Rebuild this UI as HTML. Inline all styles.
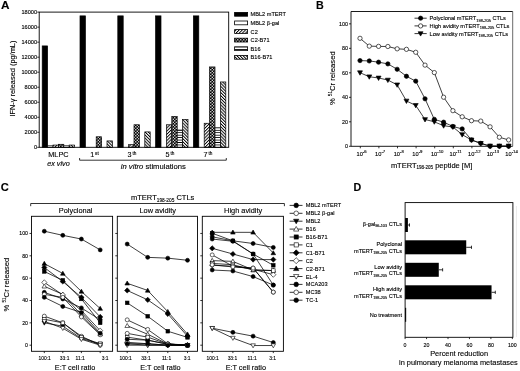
<!DOCTYPE html><html><head><meta charset="utf-8"><style>html,body{margin:0;padding:0;background:#fff;}svg{display:block;will-change:transform;filter:blur(0.3px);}text{stroke:#000;stroke-width:0.12px;}</style></head><body>
<svg width="520" height="371" viewBox="0 0 520 371" font-family='"Liberation Sans", sans-serif' fill="#000">
<defs>
<pattern id="p_c2" patternUnits="userSpaceOnUse" width="2.26" height="2.26" patternTransform="rotate(45)"><rect width="2.26" height="2.26" fill="#fff"/><rect width="0.95" height="2.26" fill="#000"/></pattern>
<pattern id="p_c2b" patternUnits="userSpaceOnUse" width="3" height="3"><rect width="3" height="3" fill="#000"/><rect x="0.15" y="0.15" width="1.25" height="1.25" fill="#fff"/><rect x="1.65" y="1.65" width="1.25" height="1.25" fill="#fff"/></pattern>
<pattern id="p_b16" patternUnits="userSpaceOnUse" width="3" height="2.45" shape-rendering="crispEdges"><rect width="3" height="2.45" fill="#fff"/><rect y="0" width="3" height="1.2" fill="#000"/></pattern>
<pattern id="p_b16b" patternUnits="userSpaceOnUse" width="2.2" height="2.2" patternTransform="rotate(-45)"><rect width="2.2" height="2.2" fill="#fff"/><rect width="0.95" height="2.2" fill="#000"/></pattern>
</defs>
<rect width="520" height="371" fill="#fff"/>
<text transform="translate(0.96,8.8) scale(1.1,1)" font-size="10.7" font-weight="bold">A</text>
<rect x="42.2" y="45.92" width="5.4" height="101.38" fill="#000" stroke="#000" stroke-width="0.7"/>
<rect x="47.6" y="145.8" width="5.4" height="1.5" fill="#fff" stroke="#000" stroke-width="0.7"/>
<rect x="53" y="145.05" width="5.4" height="2.25" fill="url(#p_c2)" stroke="#000" stroke-width="0.7"/>
<rect x="58.4" y="144.3" width="5.4" height="3" fill="url(#p_c2b)" stroke="#000" stroke-width="0.7"/>
<rect x="63.8" y="145.8" width="5.4" height="1.5" fill="url(#p_b16)" stroke="#000" stroke-width="0.7"/>
<rect x="69.2" y="145.05" width="5.4" height="2.25" fill="url(#p_b16b)" stroke="#000" stroke-width="0.7"/>
<rect x="80" y="15.88" width="5.4" height="131.42" fill="#000" stroke="#000" stroke-width="0.7"/>
<rect x="96.2" y="136.79" width="5.4" height="10.51" fill="url(#p_c2b)" stroke="#000" stroke-width="0.7"/>
<rect x="107" y="140.92" width="5.4" height="6.38" fill="url(#p_b16b)" stroke="#000" stroke-width="0.7"/>
<rect x="117.8" y="15.88" width="5.4" height="131.42" fill="#000" stroke="#000" stroke-width="0.7"/>
<rect x="128.6" y="144.67" width="5.4" height="2.63" fill="url(#p_c2)" stroke="#000" stroke-width="0.7"/>
<rect x="134" y="124.77" width="5.4" height="22.53" fill="url(#p_c2b)" stroke="#000" stroke-width="0.7"/>
<rect x="144.8" y="131.9" width="5.4" height="15.4" fill="url(#p_b16b)" stroke="#000" stroke-width="0.7"/>
<rect x="155.6" y="15.88" width="5.4" height="131.42" fill="#000" stroke="#000" stroke-width="0.7"/>
<rect x="166.4" y="124.77" width="5.4" height="22.53" fill="url(#p_c2)" stroke="#000" stroke-width="0.7"/>
<rect x="171.8" y="116.51" width="5.4" height="30.79" fill="url(#p_c2b)" stroke="#000" stroke-width="0.7"/>
<rect x="177.2" y="130.03" width="5.4" height="17.27" fill="url(#p_b16)" stroke="#000" stroke-width="0.7"/>
<rect x="182.6" y="119.51" width="5.4" height="27.79" fill="url(#p_b16b)" stroke="#000" stroke-width="0.7"/>
<rect x="193.4" y="15.88" width="5.4" height="131.42" fill="#000" stroke="#000" stroke-width="0.7"/>
<rect x="204.2" y="123.27" width="5.4" height="24.03" fill="url(#p_c2)" stroke="#000" stroke-width="0.7"/>
<rect x="209.6" y="66.94" width="5.4" height="80.36" fill="url(#p_c2b)" stroke="#000" stroke-width="0.7"/>
<rect x="215" y="127.77" width="5.4" height="19.53" fill="url(#p_b16)" stroke="#000" stroke-width="0.7"/>
<rect x="220.4" y="81.96" width="5.4" height="65.34" fill="url(#p_b16b)" stroke="#000" stroke-width="0.7"/>
<rect x="39.2" y="12.1" width="189.5" height="135.2" fill="none" stroke="#000" stroke-width="0.9"/>
<line x1="37.2" y1="147.3" x2="39.2" y2="147.3" stroke="#000" stroke-width="0.8"/>
<text x="37" y="149.3" font-size="5.6" text-anchor="end" >0</text>
<line x1="37.2" y1="132.28" x2="39.2" y2="132.28" stroke="#000" stroke-width="0.8"/>
<text x="37" y="134.28" font-size="5.6" text-anchor="end" >2000</text>
<line x1="37.2" y1="117.26" x2="39.2" y2="117.26" stroke="#000" stroke-width="0.8"/>
<text x="37" y="119.26" font-size="5.6" text-anchor="end" >4000</text>
<line x1="37.2" y1="102.24" x2="39.2" y2="102.24" stroke="#000" stroke-width="0.8"/>
<text x="37" y="104.24" font-size="5.6" text-anchor="end" >6000</text>
<line x1="37.2" y1="87.22" x2="39.2" y2="87.22" stroke="#000" stroke-width="0.8"/>
<text x="37" y="89.22" font-size="5.6" text-anchor="end" >8000</text>
<line x1="37.2" y1="72.2" x2="39.2" y2="72.2" stroke="#000" stroke-width="0.8"/>
<text x="37" y="74.2" font-size="5.6" text-anchor="end" >10000</text>
<line x1="37.2" y1="57.18" x2="39.2" y2="57.18" stroke="#000" stroke-width="0.8"/>
<text x="37" y="59.18" font-size="5.6" text-anchor="end" >12000</text>
<line x1="37.2" y1="42.16" x2="39.2" y2="42.16" stroke="#000" stroke-width="0.8"/>
<text x="37" y="44.16" font-size="5.6" text-anchor="end" >14000</text>
<line x1="37.2" y1="27.14" x2="39.2" y2="27.14" stroke="#000" stroke-width="0.8"/>
<text x="37" y="29.14" font-size="5.6" text-anchor="end" >16000</text>
<line x1="37.2" y1="12.12" x2="39.2" y2="12.12" stroke="#000" stroke-width="0.8"/>
<text x="37" y="14.12" font-size="5.6" text-anchor="end" >18000</text>
<text transform="translate(14.7,78.6) rotate(-90)" font-size="7.4" text-anchor="middle">IFN-&#947; released (pg/mL)</text>
<text x="58.4" y="157.1" font-size="7.3" text-anchor="middle" >MLPC</text>
<text x="58.5" y="165.6" font-size="7.25" text-anchor="middle" font-style="italic" >ex vivo</text>
<text x="94.5" y="157.4" font-size="7.2" text-anchor="middle">1<tspan font-size="4.7" dx="0.9" dy="-2.7">st</tspan></text>
<text x="132" y="157.4" font-size="7.2" text-anchor="middle">3<tspan font-size="4.7" dx="0.9" dy="-2.7">th</tspan></text>
<text x="170" y="157.4" font-size="7.2" text-anchor="middle">5<tspan font-size="4.7" dx="0.9" dy="-2.7">th</tspan></text>
<text x="208" y="157.4" font-size="7.2" text-anchor="middle">7<tspan font-size="4.7" dx="0.9" dy="-2.7">th</tspan></text>
<polyline points="79.6,158 79.6,160.2 226.3,160.2 226.3,158" fill="none" stroke="#000" stroke-width="0.8"/>
<text x="153.3" y="168.5" font-size="7.65" text-anchor="middle"><tspan font-style="italic">in vitro</tspan> stimulations</text>
<rect x="234.6" y="12.4" width="13" height="3.8" fill="#000" stroke="#000" stroke-width="0.8"/>
<text x="250.6" y="16.3" font-size="5.6" text-anchor="start" >MBL2 mTERT</text>
<rect x="234.6" y="21" width="13" height="3.8" fill="#fff" stroke="#000" stroke-width="0.8"/>
<text x="250.6" y="24.9" font-size="5.6" text-anchor="start" >MBL2 &#946;-gal</text>
<rect x="234.6" y="29.6" width="13" height="3.8" fill="url(#p_c2)" stroke="#000" stroke-width="0.8"/>
<text x="250.6" y="33.5" font-size="5.6" text-anchor="start" >C2</text>
<rect x="234.6" y="38.2" width="13" height="3.8" fill="url(#p_c2b)" stroke="#000" stroke-width="0.8"/>
<text x="250.6" y="42.1" font-size="5.6" text-anchor="start" >C2-B71</text>
<rect x="234.6" y="46.8" width="13" height="3.8" fill="url(#p_b16)" stroke="#000" stroke-width="0.8"/>
<text x="250.6" y="50.7" font-size="5.6" text-anchor="start" >B16</text>
<rect x="234.6" y="55.4" width="13" height="3.8" fill="url(#p_b16b)" stroke="#000" stroke-width="0.8"/>
<text x="250.6" y="59.3" font-size="5.6" text-anchor="start" >B16-B71</text>
<text x="316.1" y="8.8" font-size="10.7" text-anchor="start" font-weight="bold" >B</text>
<polyline points="512.7,11.5 351,11.5 351,146.3 512.7,146.3" fill="none" stroke="#000" stroke-width="0.9"/>
<line x1="512.7" y1="11.5" x2="512.7" y2="146.3" stroke="#444" stroke-width="0.8"/>
<line x1="349" y1="146.3" x2="351" y2="146.3" stroke="#000" stroke-width="0.8"/>
<text x="348" y="148.25" font-size="5.4" text-anchor="end" >0</text>
<line x1="349" y1="121.81" x2="351" y2="121.81" stroke="#000" stroke-width="0.8"/>
<text x="348" y="123.76" font-size="5.4" text-anchor="end" >20</text>
<line x1="349" y1="97.32" x2="351" y2="97.32" stroke="#000" stroke-width="0.8"/>
<text x="348" y="99.27" font-size="5.4" text-anchor="end" >40</text>
<line x1="349" y1="72.83" x2="351" y2="72.83" stroke="#000" stroke-width="0.8"/>
<text x="348" y="74.78" font-size="5.4" text-anchor="end" >60</text>
<line x1="349" y1="48.34" x2="351" y2="48.34" stroke="#000" stroke-width="0.8"/>
<text x="348" y="50.29" font-size="5.4" text-anchor="end" >80</text>
<line x1="349" y1="23.85" x2="351" y2="23.85" stroke="#000" stroke-width="0.8"/>
<text x="348" y="25.8" font-size="5.4" text-anchor="end" >100</text>
<line x1="360.3" y1="146.3" x2="360.3" y2="148.3" stroke="#000" stroke-width="0.8"/>
<text x="356.5" y="155.7" font-size="5.7">10<tspan font-size="4.3" dy="-2.4">-6</tspan></text>
<line x1="378.9" y1="146.3" x2="378.9" y2="148.3" stroke="#000" stroke-width="0.8"/>
<text x="375.1" y="155.7" font-size="5.7">10<tspan font-size="4.3" dy="-2.4">-7</tspan></text>
<line x1="397.5" y1="146.3" x2="397.5" y2="148.3" stroke="#000" stroke-width="0.8"/>
<text x="393.7" y="155.7" font-size="5.7">10<tspan font-size="4.3" dy="-2.4">-8</tspan></text>
<line x1="416.1" y1="146.3" x2="416.1" y2="148.3" stroke="#000" stroke-width="0.8"/>
<text x="412.3" y="155.7" font-size="5.7">10<tspan font-size="4.3" dy="-2.4">-9</tspan></text>
<line x1="434.7" y1="146.3" x2="434.7" y2="148.3" stroke="#000" stroke-width="0.8"/>
<text x="430.9" y="155.7" font-size="5.7">10<tspan font-size="4.3" dy="-2.4">-10</tspan></text>
<line x1="453.3" y1="146.3" x2="453.3" y2="148.3" stroke="#000" stroke-width="0.8"/>
<text x="449.5" y="155.7" font-size="5.7">10<tspan font-size="4.3" dy="-2.4">-11</tspan></text>
<line x1="471.9" y1="146.3" x2="471.9" y2="148.3" stroke="#000" stroke-width="0.8"/>
<text x="468.1" y="155.7" font-size="5.7">10<tspan font-size="4.3" dy="-2.4">-12</tspan></text>
<line x1="490.5" y1="146.3" x2="490.5" y2="148.3" stroke="#000" stroke-width="0.8"/>
<text x="486.7" y="155.7" font-size="5.7">10<tspan font-size="4.3" dy="-2.4">-13</tspan></text>
<line x1="509.1" y1="146.3" x2="509.1" y2="148.3" stroke="#000" stroke-width="0.8"/>
<text x="505.3" y="155.7" font-size="5.7">10<tspan font-size="4.3" dy="-2.4">-14</tspan></text>
<text x="431.6" y="167.5" font-size="7.5" text-anchor="middle">mTERT<tspan font-size="4.5" dy="1.9">198-205</tspan><tspan dy="-1.9"> peptide [M]</tspan></text>
<text transform="translate(334.8,78.2) rotate(-90)" font-size="7.7" text-anchor="middle">% <tspan font-size="4.6" dy="-2.4">51</tspan><tspan dy="2.4">Cr released</tspan></text>
<polyline points="360,72.71 369.29,76.75 378.58,77.97 387.87,80.05 397.16,84.83 406.45,100.99 415.74,105.4 425.03,119.48 434.32,121.81 443.61,125.73 452.9,126.95 462.19,134.67 471.48,139.93 480.77,143.36 490.06,145.93 499.35,145.93 508.64,145.93" fill="none" stroke="#000" stroke-width="0.75"/>
<polyline points="360,60.59 369.29,60.95 378.58,62.18 387.87,63.89 397.16,69.28 406.45,76.26 415.74,81.16 425.03,98.79 434.32,119.36 443.61,122.18 452.9,126.46 462.19,128.91 471.48,139.93 480.77,143.36 490.06,146.3 499.35,146.3 508.64,146.3" fill="none" stroke="#000" stroke-width="0.75"/>
<polyline points="360,38.3 369.29,46.14 378.58,46.38 387.87,46.5 397.16,48.83 406.45,49.32 415.74,52.26 425.03,65.12 434.32,72.59 443.61,97.2 452.9,110.67 462.19,116.79 471.48,120.71 480.77,121.08 490.06,126.83 499.35,137.24 508.64,139.93" fill="none" stroke="#000" stroke-width="0.75"/>
<polygon points="360,75.18 362.47,70.85 357.53,70.85" fill="#000" stroke="#000" stroke-width="0.65"/>
<polygon points="369.29,79.22 371.76,74.89 366.82,74.89" fill="#000" stroke="#000" stroke-width="0.65"/>
<polygon points="378.58,80.45 381.05,76.12 376.11,76.12" fill="#000" stroke="#000" stroke-width="0.65"/>
<polygon points="387.87,82.53 390.34,78.2 385.4,78.2" fill="#000" stroke="#000" stroke-width="0.65"/>
<polygon points="397.16,87.3 399.63,82.98 394.69,82.98" fill="#000" stroke="#000" stroke-width="0.65"/>
<polygon points="406.45,103.47 408.92,99.14 403.98,99.14" fill="#000" stroke="#000" stroke-width="0.65"/>
<polygon points="415.74,107.87 418.21,103.55 413.27,103.55" fill="#000" stroke="#000" stroke-width="0.65"/>
<polygon points="425.03,121.96 427.5,117.63 422.56,117.63" fill="#000" stroke="#000" stroke-width="0.65"/>
<polygon points="434.32,124.28 436.79,119.96 431.85,119.96" fill="#000" stroke="#000" stroke-width="0.65"/>
<polygon points="443.61,128.2 446.08,123.87 441.14,123.87" fill="#000" stroke="#000" stroke-width="0.65"/>
<polygon points="452.9,129.43 455.37,125.1 450.43,125.1" fill="#000" stroke="#000" stroke-width="0.65"/>
<polygon points="462.19,137.14 464.66,132.81 459.72,132.81" fill="#000" stroke="#000" stroke-width="0.65"/>
<polygon points="471.48,142.41 473.95,138.08 469.01,138.08" fill="#000" stroke="#000" stroke-width="0.65"/>
<polygon points="480.77,145.83 483.24,141.51 478.3,141.51" fill="#000" stroke="#000" stroke-width="0.65"/>
<polygon points="490.06,148.41 492.53,144.08 487.59,144.08" fill="#000" stroke="#000" stroke-width="0.65"/>
<polygon points="499.35,148.41 501.82,144.08 496.88,144.08" fill="#000" stroke="#000" stroke-width="0.65"/>
<polygon points="508.64,148.41 511.11,144.08 506.17,144.08" fill="#000" stroke="#000" stroke-width="0.65"/>
<circle cx="360" cy="60.59" r="2.15" fill="#000" stroke="#000" stroke-width="0.65"/>
<circle cx="369.29" cy="60.95" r="2.15" fill="#000" stroke="#000" stroke-width="0.65"/>
<circle cx="378.58" cy="62.18" r="2.15" fill="#000" stroke="#000" stroke-width="0.65"/>
<circle cx="387.87" cy="63.89" r="2.15" fill="#000" stroke="#000" stroke-width="0.65"/>
<circle cx="397.16" cy="69.28" r="2.15" fill="#000" stroke="#000" stroke-width="0.65"/>
<circle cx="406.45" cy="76.26" r="2.15" fill="#000" stroke="#000" stroke-width="0.65"/>
<circle cx="415.74" cy="81.16" r="2.15" fill="#000" stroke="#000" stroke-width="0.65"/>
<circle cx="425.03" cy="98.79" r="2.15" fill="#000" stroke="#000" stroke-width="0.65"/>
<circle cx="434.32" cy="119.36" r="2.15" fill="#000" stroke="#000" stroke-width="0.65"/>
<circle cx="443.61" cy="122.18" r="2.15" fill="#000" stroke="#000" stroke-width="0.65"/>
<circle cx="452.9" cy="126.46" r="2.15" fill="#000" stroke="#000" stroke-width="0.65"/>
<circle cx="462.19" cy="128.91" r="2.15" fill="#000" stroke="#000" stroke-width="0.65"/>
<circle cx="471.48" cy="139.93" r="2.15" fill="#000" stroke="#000" stroke-width="0.65"/>
<circle cx="480.77" cy="143.36" r="2.15" fill="#000" stroke="#000" stroke-width="0.65"/>
<circle cx="490.06" cy="146.3" r="2.15" fill="#000" stroke="#000" stroke-width="0.65"/>
<circle cx="499.35" cy="146.3" r="2.15" fill="#000" stroke="#000" stroke-width="0.65"/>
<circle cx="508.64" cy="146.3" r="2.15" fill="#000" stroke="#000" stroke-width="0.65"/>
<circle cx="360" cy="38.3" r="2.15" fill="#fff" stroke="#000" stroke-width="0.65"/>
<circle cx="369.29" cy="46.14" r="2.15" fill="#fff" stroke="#000" stroke-width="0.65"/>
<circle cx="378.58" cy="46.38" r="2.15" fill="#fff" stroke="#000" stroke-width="0.65"/>
<circle cx="387.87" cy="46.5" r="2.15" fill="#fff" stroke="#000" stroke-width="0.65"/>
<circle cx="397.16" cy="48.83" r="2.15" fill="#fff" stroke="#000" stroke-width="0.65"/>
<circle cx="406.45" cy="49.32" r="2.15" fill="#fff" stroke="#000" stroke-width="0.65"/>
<circle cx="415.74" cy="52.26" r="2.15" fill="#fff" stroke="#000" stroke-width="0.65"/>
<circle cx="425.03" cy="65.12" r="2.15" fill="#fff" stroke="#000" stroke-width="0.65"/>
<circle cx="434.32" cy="72.59" r="2.15" fill="#fff" stroke="#000" stroke-width="0.65"/>
<circle cx="443.61" cy="97.2" r="2.15" fill="#fff" stroke="#000" stroke-width="0.65"/>
<circle cx="452.9" cy="110.67" r="2.15" fill="#fff" stroke="#000" stroke-width="0.65"/>
<circle cx="462.19" cy="116.79" r="2.15" fill="#fff" stroke="#000" stroke-width="0.65"/>
<circle cx="471.48" cy="120.71" r="2.15" fill="#fff" stroke="#000" stroke-width="0.65"/>
<circle cx="480.77" cy="121.08" r="2.15" fill="#fff" stroke="#000" stroke-width="0.65"/>
<circle cx="490.06" cy="126.83" r="2.15" fill="#fff" stroke="#000" stroke-width="0.65"/>
<circle cx="499.35" cy="137.24" r="2.15" fill="#fff" stroke="#000" stroke-width="0.65"/>
<circle cx="508.64" cy="139.93" r="2.15" fill="#fff" stroke="#000" stroke-width="0.65"/>
<line x1="414.5" y1="18.2" x2="426.7" y2="18.2" stroke="#000" stroke-width="0.8"/>
<circle cx="420.6" cy="18.2" r="2.15" fill="#000" stroke="#000" stroke-width="0.65"/>
<text x="429.6" y="20.2" font-size="5.65">Polyclonal mTERT<tspan font-size="4" dy="1.3">198-205</tspan><tspan dy="-1.3"> CTLs</tspan></text>
<line x1="414.5" y1="25.9" x2="426.7" y2="25.9" stroke="#000" stroke-width="0.8"/>
<circle cx="420.6" cy="25.9" r="2.15" fill="#fff" stroke="#000" stroke-width="0.65"/>
<text x="429.6" y="27.9" font-size="5.65">High avidity mTERT<tspan font-size="4" dy="1.3">198-205</tspan><tspan dy="-1.3"> CTLs</tspan></text>
<line x1="414.5" y1="33.6" x2="426.7" y2="33.6" stroke="#000" stroke-width="0.8"/>
<polygon points="420.6,36.07 423.07,31.75 418.13,31.75" fill="#000" stroke="#000" stroke-width="0.65"/>
<text x="429.6" y="35.6" font-size="5.65">Low avidity mTERT<tspan font-size="4" dy="1.3">198-205</tspan><tspan dy="-1.3"> CTLs</tspan></text>
<text x="0.8" y="190.6" font-size="11.2" text-anchor="start" font-weight="bold" >C</text>
<polyline points="30.7,206.2 30.7,203.5 284.4,203.5 284.4,206.2" fill="none" stroke="#000" stroke-width="0.8"/>
<text x="162.7" y="200.4" font-size="7.5" text-anchor="middle">mTERT<tspan font-size="4.8" dy="1.4">198-205</tspan><tspan dy="-1.4"> CTLs</tspan></text>
<rect x="31.5" y="216.3" width="81.1" height="135" fill="none" stroke="#000" stroke-width="0.9"/>
<text x="75.65" y="213" font-size="7.4" text-anchor="middle" >Polyclonal</text>
<line x1="29.5" y1="345.2" x2="31.5" y2="345.2" stroke="#000" stroke-width="0.8"/>
<text x="28" y="347.05" font-size="5.2" text-anchor="end" >0</text>
<line x1="29.5" y1="322.85" x2="31.5" y2="322.85" stroke="#000" stroke-width="0.8"/>
<text x="28" y="324.7" font-size="5.2" text-anchor="end" >20</text>
<line x1="29.5" y1="300.5" x2="31.5" y2="300.5" stroke="#000" stroke-width="0.8"/>
<text x="28" y="302.35" font-size="5.2" text-anchor="end" >40</text>
<line x1="29.5" y1="278.15" x2="31.5" y2="278.15" stroke="#000" stroke-width="0.8"/>
<text x="28" y="280" font-size="5.2" text-anchor="end" >60</text>
<line x1="29.5" y1="255.8" x2="31.5" y2="255.8" stroke="#000" stroke-width="0.8"/>
<text x="28" y="257.65" font-size="5.2" text-anchor="end" >80</text>
<line x1="29.5" y1="233.45" x2="31.5" y2="233.45" stroke="#000" stroke-width="0.8"/>
<text x="28" y="235.3" font-size="5.2" text-anchor="end" >100</text>
<line x1="44.3" y1="351.3" x2="44.3" y2="353.1" stroke="#000" stroke-width="0.8"/>
<line x1="62.8" y1="351.3" x2="62.8" y2="353.1" stroke="#000" stroke-width="0.8"/>
<line x1="81.4" y1="351.3" x2="81.4" y2="353.1" stroke="#000" stroke-width="0.8"/>
<line x1="100.2" y1="351.3" x2="100.2" y2="353.1" stroke="#000" stroke-width="0.8"/>
<text x="44.6" y="359.8" font-size="4.9" text-anchor="middle" >100:1</text>
<text x="64.6" y="359.8" font-size="4.9" text-anchor="middle" >33:1</text>
<text x="80.2" y="359.8" font-size="4.9" text-anchor="middle" >11:1</text>
<text x="105.2" y="359.8" font-size="4.9" text-anchor="middle" >3:1</text>
<text x="75.05" y="369.8" font-size="7.3" text-anchor="middle" >E:T cell ratio</text>
<polyline points="44.3,231.21 62.8,235.35 81.4,239.04 100.2,249.88" fill="none" stroke="#000" stroke-width="0.75"/>
<polyline points="44.3,316.14 62.8,322.85 81.4,336.26 100.2,345.2" fill="none" stroke="#000" stroke-width="0.75"/>
<polyline points="44.3,322.85 62.8,326.2 81.4,338.5 100.2,344.08" fill="none" stroke="#000" stroke-width="0.75"/>
<polyline points="44.3,286.31 62.8,294.35 81.4,315.03 100.2,334.02" fill="none" stroke="#000" stroke-width="0.75"/>
<polyline points="44.3,271.44 62.8,280.38 81.4,298.94 100.2,322.85" fill="none" stroke="#000" stroke-width="0.75"/>
<polyline points="44.3,319.27 62.8,322.85 81.4,337.38 100.2,343.75" fill="none" stroke="#000" stroke-width="0.75"/>
<polyline points="44.3,267.53 62.8,281.5 81.4,297.37 100.2,316.93" fill="none" stroke="#000" stroke-width="0.75"/>
<polyline points="44.3,282.4 62.8,294.91 81.4,310.56 100.2,330.67" fill="none" stroke="#000" stroke-width="0.75"/>
<polyline points="44.3,263.62 62.8,273.46 81.4,291.45 100.2,308.55" fill="none" stroke="#000" stroke-width="0.75"/>
<polyline points="44.3,321.29 62.8,328.21 81.4,339.28 100.2,345.2" fill="none" stroke="#000" stroke-width="0.75"/>
<polyline points="44.3,292.34 62.8,298.94 81.4,307.88 100.2,319.83" fill="none" stroke="#000" stroke-width="0.75"/>
<polyline points="44.3,294.35 62.8,297.37 81.4,316.93 100.2,334.81" fill="none" stroke="#000" stroke-width="0.75"/>
<polyline points="44.3,297.37 62.8,306.42 81.4,312.46 100.2,333.24" fill="none" stroke="#000" stroke-width="0.75"/>
<circle cx="44.3" cy="231.21" r="2" fill="#000" stroke="#000" stroke-width="0.6"/>
<circle cx="62.8" cy="235.35" r="2" fill="#000" stroke="#000" stroke-width="0.6"/>
<circle cx="81.4" cy="239.04" r="2" fill="#000" stroke="#000" stroke-width="0.6"/>
<circle cx="100.2" cy="249.88" r="2" fill="#000" stroke="#000" stroke-width="0.6"/>
<circle cx="44.3" cy="316.14" r="2" fill="#fff" stroke="#000" stroke-width="0.6"/>
<circle cx="62.8" cy="322.85" r="2" fill="#fff" stroke="#000" stroke-width="0.6"/>
<circle cx="81.4" cy="336.26" r="2" fill="#fff" stroke="#000" stroke-width="0.6"/>
<circle cx="100.2" cy="345.2" r="2" fill="#fff" stroke="#000" stroke-width="0.6"/>
<polygon points="44.3,325.15 46.6,321.12 42,321.12" fill="#000" stroke="#000" stroke-width="0.6"/>
<polygon points="62.8,328.5 65.1,324.48 60.5,324.48" fill="#000" stroke="#000" stroke-width="0.6"/>
<polygon points="81.4,340.8 83.7,336.77 79.1,336.77" fill="#000" stroke="#000" stroke-width="0.6"/>
<polygon points="100.2,346.38 102.5,342.36 97.9,342.36" fill="#000" stroke="#000" stroke-width="0.6"/>
<polygon points="44.3,284.01 46.6,288.03 42,288.03" fill="#fff" stroke="#000" stroke-width="0.6"/>
<polygon points="62.8,292.05 65.1,296.08 60.5,296.08" fill="#fff" stroke="#000" stroke-width="0.6"/>
<polygon points="81.4,312.73 83.7,316.75 79.1,316.75" fill="#fff" stroke="#000" stroke-width="0.6"/>
<polygon points="100.2,331.72 102.5,335.75 97.9,335.75" fill="#fff" stroke="#000" stroke-width="0.6"/>
<rect x="42.5" y="269.64" width="3.6" height="3.6" fill="#000" stroke="#000" stroke-width="0.6"/>
<rect x="61" y="278.58" width="3.6" height="3.6" fill="#000" stroke="#000" stroke-width="0.6"/>
<rect x="79.6" y="297.14" width="3.6" height="3.6" fill="#000" stroke="#000" stroke-width="0.6"/>
<rect x="98.4" y="321.05" width="3.6" height="3.6" fill="#000" stroke="#000" stroke-width="0.6"/>
<rect x="42.5" y="317.47" width="3.6" height="3.6" fill="#fff" stroke="#000" stroke-width="0.6"/>
<rect x="61" y="321.05" width="3.6" height="3.6" fill="#fff" stroke="#000" stroke-width="0.6"/>
<rect x="79.6" y="335.58" width="3.6" height="3.6" fill="#fff" stroke="#000" stroke-width="0.6"/>
<rect x="98.4" y="341.95" width="3.6" height="3.6" fill="#fff" stroke="#000" stroke-width="0.6"/>
<polygon points="44.3,264.93 46.9,267.53 44.3,270.13 41.7,267.53" fill="#000" stroke="#000" stroke-width="0.6"/>
<polygon points="62.8,278.9 65.4,281.5 62.8,284.1 60.2,281.5" fill="#000" stroke="#000" stroke-width="0.6"/>
<polygon points="81.4,294.77 84,297.37 81.4,299.97 78.8,297.37" fill="#000" stroke="#000" stroke-width="0.6"/>
<polygon points="100.2,314.33 102.8,316.93 100.2,319.53 97.6,316.93" fill="#000" stroke="#000" stroke-width="0.6"/>
<polygon points="44.3,279.8 46.9,282.4 44.3,285 41.7,282.4" fill="#fff" stroke="#000" stroke-width="0.6"/>
<polygon points="62.8,292.31 65.4,294.91 62.8,297.51 60.2,294.91" fill="#fff" stroke="#000" stroke-width="0.6"/>
<polygon points="81.4,307.96 84,310.56 81.4,313.16 78.8,310.56" fill="#fff" stroke="#000" stroke-width="0.6"/>
<polygon points="100.2,328.07 102.8,330.67 100.2,333.27 97.6,330.67" fill="#fff" stroke="#000" stroke-width="0.6"/>
<polygon points="44.3,261.32 46.6,265.35 42,265.35" fill="#000" stroke="#000" stroke-width="0.6"/>
<polygon points="62.8,271.16 65.1,275.18 60.5,275.18" fill="#000" stroke="#000" stroke-width="0.6"/>
<polygon points="81.4,289.15 83.7,293.17 79.1,293.17" fill="#000" stroke="#000" stroke-width="0.6"/>
<polygon points="100.2,306.25 102.5,310.27 97.9,310.27" fill="#000" stroke="#000" stroke-width="0.6"/>
<polygon points="44.3,323.59 46.6,319.56 42,319.56" fill="#fff" stroke="#000" stroke-width="0.6"/>
<polygon points="62.8,330.51 65.1,326.49 60.5,326.49" fill="#fff" stroke="#000" stroke-width="0.6"/>
<polygon points="81.4,341.58 83.7,337.55 79.1,337.55" fill="#fff" stroke="#000" stroke-width="0.6"/>
<polygon points="100.2,347.5 102.5,343.47 97.9,343.47" fill="#fff" stroke="#000" stroke-width="0.6"/>
<circle cx="44.3" cy="292.34" r="2" fill="#000" stroke="#000" stroke-width="0.6"/>
<circle cx="62.8" cy="298.94" r="2" fill="#000" stroke="#000" stroke-width="0.6"/>
<circle cx="81.4" cy="307.88" r="2" fill="#000" stroke="#000" stroke-width="0.6"/>
<circle cx="100.2" cy="319.83" r="2" fill="#000" stroke="#000" stroke-width="0.6"/>
<circle cx="44.3" cy="294.35" r="2" fill="#fff" stroke="#000" stroke-width="0.6"/>
<circle cx="62.8" cy="297.37" r="2" fill="#fff" stroke="#000" stroke-width="0.6"/>
<circle cx="81.4" cy="316.93" r="2" fill="#fff" stroke="#000" stroke-width="0.6"/>
<circle cx="100.2" cy="334.81" r="2" fill="#fff" stroke="#000" stroke-width="0.6"/>
<circle cx="44.3" cy="297.37" r="2" fill="#000" stroke="#000" stroke-width="0.6"/>
<circle cx="62.8" cy="306.42" r="2" fill="#000" stroke="#000" stroke-width="0.6"/>
<circle cx="81.4" cy="312.46" r="2" fill="#000" stroke="#000" stroke-width="0.6"/>
<circle cx="100.2" cy="333.24" r="2" fill="#000" stroke="#000" stroke-width="0.6"/>
<rect x="117.3" y="216.3" width="80.2" height="135" fill="none" stroke="#000" stroke-width="0.9"/>
<text x="157.7" y="213" font-size="7.4" text-anchor="middle" >Low avidity</text>
<line x1="115.3" y1="345.2" x2="117.3" y2="345.2" stroke="#000" stroke-width="0.8"/>
<line x1="115.3" y1="322.85" x2="117.3" y2="322.85" stroke="#000" stroke-width="0.8"/>
<line x1="115.3" y1="300.5" x2="117.3" y2="300.5" stroke="#000" stroke-width="0.8"/>
<line x1="115.3" y1="278.15" x2="117.3" y2="278.15" stroke="#000" stroke-width="0.8"/>
<line x1="115.3" y1="255.8" x2="117.3" y2="255.8" stroke="#000" stroke-width="0.8"/>
<line x1="115.3" y1="233.45" x2="117.3" y2="233.45" stroke="#000" stroke-width="0.8"/>
<line x1="127.2" y1="351.3" x2="127.2" y2="353.1" stroke="#000" stroke-width="0.8"/>
<line x1="147.7" y1="351.3" x2="147.7" y2="353.1" stroke="#000" stroke-width="0.8"/>
<line x1="167.8" y1="351.3" x2="167.8" y2="353.1" stroke="#000" stroke-width="0.8"/>
<line x1="187.5" y1="351.3" x2="187.5" y2="353.1" stroke="#000" stroke-width="0.8"/>
<text x="125.6" y="359.8" font-size="4.9" text-anchor="middle" >100:1</text>
<text x="145.9" y="359.8" font-size="4.9" text-anchor="middle" >33:1</text>
<text x="166.6" y="359.8" font-size="4.9" text-anchor="middle" >11:1</text>
<text x="187.1" y="359.8" font-size="4.9" text-anchor="middle" >3:1</text>
<text x="160.4" y="369.8" font-size="7.3" text-anchor="middle" >E:T cell ratio</text>
<polyline points="127.2,244.07 147.7,257.36 167.8,258.15 187.5,260.27" fill="none" stroke="#000" stroke-width="0.75"/>
<polyline points="127.2,319.83 147.7,329.44 167.8,343.75 187.5,345.2" fill="none" stroke="#000" stroke-width="0.75"/>
<polyline points="127.2,343.75 147.7,345.2 167.8,345.2 187.5,345.2" fill="none" stroke="#000" stroke-width="0.75"/>
<polyline points="127.2,325.76 147.7,334.25 167.8,344.08 187.5,345.2" fill="none" stroke="#000" stroke-width="0.75"/>
<polyline points="127.2,302.85 147.7,316.26 167.8,331.23 187.5,337.38" fill="none" stroke="#000" stroke-width="0.75"/>
<polyline points="127.2,337.15 147.7,340.17 167.8,344.42 187.5,345.2" fill="none" stroke="#000" stroke-width="0.75"/>
<polyline points="127.2,290.44 147.7,299.83 167.8,313.91 187.5,336.26" fill="none" stroke="#000" stroke-width="0.75"/>
<polyline points="127.2,342.29 147.7,343.75 167.8,345.2 187.5,345.2" fill="none" stroke="#000" stroke-width="0.75"/>
<polyline points="127.2,283.29 147.7,290.44 167.8,311.68 187.5,334.25" fill="none" stroke="#000" stroke-width="0.75"/>
<polyline points="127.2,345.2 147.7,345.2 167.8,345.2 187.5,345.2" fill="none" stroke="#000" stroke-width="0.75"/>
<polyline points="127.2,339.28 147.7,340.17 167.8,344.08 187.5,345.2" fill="none" stroke="#000" stroke-width="0.75"/>
<polyline points="127.2,333.35 147.7,337.15 167.8,344.08 187.5,345.2" fill="none" stroke="#000" stroke-width="0.75"/>
<polyline points="127.2,343.75 147.7,343.75 167.8,345.2 187.5,345.2" fill="none" stroke="#000" stroke-width="0.75"/>
<circle cx="127.2" cy="244.07" r="2" fill="#000" stroke="#000" stroke-width="0.6"/>
<circle cx="147.7" cy="257.36" r="2" fill="#000" stroke="#000" stroke-width="0.6"/>
<circle cx="167.8" cy="258.15" r="2" fill="#000" stroke="#000" stroke-width="0.6"/>
<circle cx="187.5" cy="260.27" r="2" fill="#000" stroke="#000" stroke-width="0.6"/>
<circle cx="127.2" cy="319.83" r="2" fill="#fff" stroke="#000" stroke-width="0.6"/>
<circle cx="147.7" cy="329.44" r="2" fill="#fff" stroke="#000" stroke-width="0.6"/>
<circle cx="167.8" cy="343.75" r="2" fill="#fff" stroke="#000" stroke-width="0.6"/>
<circle cx="187.5" cy="345.2" r="2" fill="#fff" stroke="#000" stroke-width="0.6"/>
<polygon points="127.2,346.05 129.5,342.02 124.9,342.02" fill="#000" stroke="#000" stroke-width="0.6"/>
<polygon points="147.7,347.5 150,343.47 145.4,343.47" fill="#000" stroke="#000" stroke-width="0.6"/>
<polygon points="167.8,347.5 170.1,343.47 165.5,343.47" fill="#000" stroke="#000" stroke-width="0.6"/>
<polygon points="187.5,347.5 189.8,343.47 185.2,343.47" fill="#000" stroke="#000" stroke-width="0.6"/>
<polygon points="127.2,323.46 129.5,327.48 124.9,327.48" fill="#fff" stroke="#000" stroke-width="0.6"/>
<polygon points="147.7,331.95 150,335.97 145.4,335.97" fill="#fff" stroke="#000" stroke-width="0.6"/>
<polygon points="167.8,341.78 170.1,345.81 165.5,345.81" fill="#fff" stroke="#000" stroke-width="0.6"/>
<polygon points="187.5,342.9 189.8,346.93 185.2,346.93" fill="#fff" stroke="#000" stroke-width="0.6"/>
<rect x="125.4" y="301.05" width="3.6" height="3.6" fill="#000" stroke="#000" stroke-width="0.6"/>
<rect x="145.9" y="314.46" width="3.6" height="3.6" fill="#000" stroke="#000" stroke-width="0.6"/>
<rect x="166" y="329.43" width="3.6" height="3.6" fill="#000" stroke="#000" stroke-width="0.6"/>
<rect x="185.7" y="335.58" width="3.6" height="3.6" fill="#000" stroke="#000" stroke-width="0.6"/>
<rect x="125.4" y="335.35" width="3.6" height="3.6" fill="#fff" stroke="#000" stroke-width="0.6"/>
<rect x="145.9" y="338.37" width="3.6" height="3.6" fill="#fff" stroke="#000" stroke-width="0.6"/>
<rect x="166" y="342.62" width="3.6" height="3.6" fill="#fff" stroke="#000" stroke-width="0.6"/>
<rect x="185.7" y="343.4" width="3.6" height="3.6" fill="#fff" stroke="#000" stroke-width="0.6"/>
<polygon points="127.2,287.84 129.8,290.44 127.2,293.04 124.6,290.44" fill="#000" stroke="#000" stroke-width="0.6"/>
<polygon points="147.7,297.23 150.3,299.83 147.7,302.43 145.1,299.83" fill="#000" stroke="#000" stroke-width="0.6"/>
<polygon points="167.8,311.31 170.4,313.91 167.8,316.51 165.2,313.91" fill="#000" stroke="#000" stroke-width="0.6"/>
<polygon points="187.5,333.66 190.1,336.26 187.5,338.86 184.9,336.26" fill="#000" stroke="#000" stroke-width="0.6"/>
<polygon points="127.2,339.69 129.8,342.29 127.2,344.89 124.6,342.29" fill="#fff" stroke="#000" stroke-width="0.6"/>
<polygon points="147.7,341.15 150.3,343.75 147.7,346.35 145.1,343.75" fill="#fff" stroke="#000" stroke-width="0.6"/>
<polygon points="167.8,342.6 170.4,345.2 167.8,347.8 165.2,345.2" fill="#fff" stroke="#000" stroke-width="0.6"/>
<polygon points="187.5,342.6 190.1,345.2 187.5,347.8 184.9,345.2" fill="#fff" stroke="#000" stroke-width="0.6"/>
<polygon points="127.2,280.99 129.5,285.02 124.9,285.02" fill="#000" stroke="#000" stroke-width="0.6"/>
<polygon points="147.7,288.14 150,292.17 145.4,292.17" fill="#000" stroke="#000" stroke-width="0.6"/>
<polygon points="167.8,309.38 170.1,313.4 165.5,313.4" fill="#000" stroke="#000" stroke-width="0.6"/>
<polygon points="187.5,331.95 189.8,335.97 185.2,335.97" fill="#000" stroke="#000" stroke-width="0.6"/>
<polygon points="127.2,347.5 129.5,343.47 124.9,343.47" fill="#fff" stroke="#000" stroke-width="0.6"/>
<polygon points="147.7,347.5 150,343.47 145.4,343.47" fill="#fff" stroke="#000" stroke-width="0.6"/>
<polygon points="167.8,347.5 170.1,343.47 165.5,343.47" fill="#fff" stroke="#000" stroke-width="0.6"/>
<polygon points="187.5,347.5 189.8,343.47 185.2,343.47" fill="#fff" stroke="#000" stroke-width="0.6"/>
<circle cx="127.2" cy="339.28" r="2" fill="#000" stroke="#000" stroke-width="0.6"/>
<circle cx="147.7" cy="340.17" r="2" fill="#000" stroke="#000" stroke-width="0.6"/>
<circle cx="167.8" cy="344.08" r="2" fill="#000" stroke="#000" stroke-width="0.6"/>
<circle cx="187.5" cy="345.2" r="2" fill="#000" stroke="#000" stroke-width="0.6"/>
<circle cx="127.2" cy="333.35" r="2" fill="#fff" stroke="#000" stroke-width="0.6"/>
<circle cx="147.7" cy="337.15" r="2" fill="#fff" stroke="#000" stroke-width="0.6"/>
<circle cx="167.8" cy="344.08" r="2" fill="#fff" stroke="#000" stroke-width="0.6"/>
<circle cx="187.5" cy="345.2" r="2" fill="#fff" stroke="#000" stroke-width="0.6"/>
<circle cx="127.2" cy="343.75" r="2" fill="#000" stroke="#000" stroke-width="0.6"/>
<circle cx="147.7" cy="343.75" r="2" fill="#000" stroke="#000" stroke-width="0.6"/>
<circle cx="167.8" cy="345.2" r="2" fill="#000" stroke="#000" stroke-width="0.6"/>
<circle cx="187.5" cy="345.2" r="2" fill="#000" stroke="#000" stroke-width="0.6"/>
<rect x="202.3" y="216.3" width="81.1" height="135" fill="none" stroke="#000" stroke-width="0.9"/>
<text x="243.15" y="213" font-size="7.4" text-anchor="middle" >High avidity</text>
<line x1="200.3" y1="345.2" x2="202.3" y2="345.2" stroke="#000" stroke-width="0.8"/>
<line x1="200.3" y1="322.85" x2="202.3" y2="322.85" stroke="#000" stroke-width="0.8"/>
<line x1="200.3" y1="300.5" x2="202.3" y2="300.5" stroke="#000" stroke-width="0.8"/>
<line x1="200.3" y1="278.15" x2="202.3" y2="278.15" stroke="#000" stroke-width="0.8"/>
<line x1="200.3" y1="255.8" x2="202.3" y2="255.8" stroke="#000" stroke-width="0.8"/>
<line x1="200.3" y1="233.45" x2="202.3" y2="233.45" stroke="#000" stroke-width="0.8"/>
<line x1="212.2" y1="351.3" x2="212.2" y2="353.1" stroke="#000" stroke-width="0.8"/>
<line x1="232.9" y1="351.3" x2="232.9" y2="353.1" stroke="#000" stroke-width="0.8"/>
<line x1="253.1" y1="351.3" x2="253.1" y2="353.1" stroke="#000" stroke-width="0.8"/>
<line x1="273.3" y1="351.3" x2="273.3" y2="353.1" stroke="#000" stroke-width="0.8"/>
<text x="212.6" y="359.8" font-size="4.9" text-anchor="middle" >100:1</text>
<text x="232.4" y="359.8" font-size="4.9" text-anchor="middle" >33:1</text>
<text x="252.2" y="359.8" font-size="4.9" text-anchor="middle" >11:1</text>
<text x="272.7" y="359.8" font-size="4.9" text-anchor="middle" >3:1</text>
<text x="245.85" y="369.8" font-size="7.3" text-anchor="middle" >E:T cell ratio</text>
<polyline points="212.2,236.8 232.9,240.83 253.1,243.51 273.3,247.42" fill="none" stroke="#000" stroke-width="0.75"/>
<polyline points="212.2,254.91 232.9,266.19 253.1,268.09 273.3,292.12" fill="none" stroke="#000" stroke-width="0.75"/>
<polyline points="212.2,328.21 232.9,332.35 253.1,336.15 273.3,342.52" fill="none" stroke="#000" stroke-width="0.75"/>
<polyline points="212.2,260.61 232.9,261.39 253.1,269.99 273.3,270.55" fill="none" stroke="#000" stroke-width="0.75"/>
<polyline points="212.2,233.23 232.9,240.83 253.1,254.01 273.3,265.3" fill="none" stroke="#000" stroke-width="0.75"/>
<polyline points="212.2,263.4 232.9,264.74 253.1,269.99 273.3,270.55" fill="none" stroke="#000" stroke-width="0.75"/>
<polyline points="212.2,248.31 232.9,254.01 253.1,259.6 273.3,259.6" fill="none" stroke="#000" stroke-width="0.75"/>
<polyline points="212.2,265.3 232.9,266.19 253.1,269.21 273.3,274.69" fill="none" stroke="#000" stroke-width="0.75"/>
<polyline points="212.2,232.33 232.9,232.33 253.1,232.33 273.3,253.01" fill="none" stroke="#000" stroke-width="0.75"/>
<polyline points="212.2,328.21 232.9,338.05 253.1,345.54 273.3,345.54" fill="none" stroke="#000" stroke-width="0.75"/>
<polyline points="212.2,239.04 232.9,241.27 253.1,254.01 273.3,285.08" fill="none" stroke="#000" stroke-width="0.75"/>
<polyline points="212.2,264.74 232.9,266.98 253.1,268.09 273.3,292.12" fill="none" stroke="#000" stroke-width="0.75"/>
<polyline points="212.2,269.99 232.9,271 253.1,276.59 273.3,285.08" fill="none" stroke="#000" stroke-width="0.75"/>
<circle cx="212.2" cy="236.8" r="2" fill="#000" stroke="#000" stroke-width="0.6"/>
<circle cx="232.9" cy="240.83" r="2" fill="#000" stroke="#000" stroke-width="0.6"/>
<circle cx="253.1" cy="243.51" r="2" fill="#000" stroke="#000" stroke-width="0.6"/>
<circle cx="273.3" cy="247.42" r="2" fill="#000" stroke="#000" stroke-width="0.6"/>
<circle cx="212.2" cy="254.91" r="2" fill="#fff" stroke="#000" stroke-width="0.6"/>
<circle cx="232.9" cy="266.19" r="2" fill="#fff" stroke="#000" stroke-width="0.6"/>
<circle cx="253.1" cy="268.09" r="2" fill="#fff" stroke="#000" stroke-width="0.6"/>
<circle cx="273.3" cy="292.12" r="2" fill="#fff" stroke="#000" stroke-width="0.6"/>
<polygon points="212.2,330.51 214.5,326.49 209.9,326.49" fill="#000" stroke="#000" stroke-width="0.6"/>
<circle cx="232.9" cy="332.35" r="2" fill="#000" stroke="#000" stroke-width="0.6"/>
<circle cx="253.1" cy="336.15" r="2" fill="#000" stroke="#000" stroke-width="0.6"/>
<circle cx="273.3" cy="342.52" r="2" fill="#000" stroke="#000" stroke-width="0.6"/>
<polygon points="212.2,258.31 214.5,262.33 209.9,262.33" fill="#fff" stroke="#000" stroke-width="0.6"/>
<polygon points="232.9,259.09 235.2,263.11 230.6,263.11" fill="#fff" stroke="#000" stroke-width="0.6"/>
<polygon points="253.1,267.69 255.4,271.72 250.8,271.72" fill="#fff" stroke="#000" stroke-width="0.6"/>
<polygon points="273.3,268.25 275.6,272.28 271,272.28" fill="#fff" stroke="#000" stroke-width="0.6"/>
<rect x="210.4" y="231.43" width="3.6" height="3.6" fill="#000" stroke="#000" stroke-width="0.6"/>
<rect x="231.1" y="239.03" width="3.6" height="3.6" fill="#000" stroke="#000" stroke-width="0.6"/>
<rect x="251.3" y="252.21" width="3.6" height="3.6" fill="#000" stroke="#000" stroke-width="0.6"/>
<rect x="271.5" y="263.5" width="3.6" height="3.6" fill="#000" stroke="#000" stroke-width="0.6"/>
<rect x="210.4" y="261.6" width="3.6" height="3.6" fill="#fff" stroke="#000" stroke-width="0.6"/>
<rect x="231.1" y="262.94" width="3.6" height="3.6" fill="#fff" stroke="#000" stroke-width="0.6"/>
<rect x="251.3" y="268.19" width="3.6" height="3.6" fill="#fff" stroke="#000" stroke-width="0.6"/>
<rect x="271.5" y="268.75" width="3.6" height="3.6" fill="#fff" stroke="#000" stroke-width="0.6"/>
<polygon points="212.2,245.71 214.8,248.31 212.2,250.91 209.6,248.31" fill="#000" stroke="#000" stroke-width="0.6"/>
<polygon points="232.9,251.41 235.5,254.01 232.9,256.61 230.3,254.01" fill="#000" stroke="#000" stroke-width="0.6"/>
<polygon points="253.1,257 255.7,259.6 253.1,262.2 250.5,259.6" fill="#000" stroke="#000" stroke-width="0.6"/>
<polygon points="273.3,257 275.9,259.6 273.3,262.2 270.7,259.6" fill="#000" stroke="#000" stroke-width="0.6"/>
<polygon points="212.2,262.7 214.8,265.3 212.2,267.9 209.6,265.3" fill="#fff" stroke="#000" stroke-width="0.6"/>
<polygon points="232.9,263.59 235.5,266.19 232.9,268.79 230.3,266.19" fill="#fff" stroke="#000" stroke-width="0.6"/>
<polygon points="253.1,266.61 255.7,269.21 253.1,271.81 250.5,269.21" fill="#fff" stroke="#000" stroke-width="0.6"/>
<polygon points="273.3,272.09 275.9,274.69 273.3,277.29 270.7,274.69" fill="#fff" stroke="#000" stroke-width="0.6"/>
<polygon points="212.2,230.03 214.5,234.06 209.9,234.06" fill="#000" stroke="#000" stroke-width="0.6"/>
<polygon points="232.9,230.03 235.2,234.06 230.6,234.06" fill="#000" stroke="#000" stroke-width="0.6"/>
<polygon points="253.1,230.03 255.4,234.06 250.8,234.06" fill="#000" stroke="#000" stroke-width="0.6"/>
<polygon points="273.3,250.71 275.6,254.73 271,254.73" fill="#000" stroke="#000" stroke-width="0.6"/>
<polygon points="212.2,330.51 214.5,326.49 209.9,326.49" fill="#fff" stroke="#000" stroke-width="0.6"/>
<polygon points="232.9,340.35 235.2,336.32 230.6,336.32" fill="#fff" stroke="#000" stroke-width="0.6"/>
<polygon points="253.1,347.84 255.4,343.81 250.8,343.81" fill="#fff" stroke="#000" stroke-width="0.6"/>
<polygon points="273.3,347.84 275.6,343.81 271,343.81" fill="#fff" stroke="#000" stroke-width="0.6"/>
<circle cx="212.2" cy="239.04" r="2" fill="#000" stroke="#000" stroke-width="0.6"/>
<circle cx="232.9" cy="241.27" r="2" fill="#000" stroke="#000" stroke-width="0.6"/>
<circle cx="253.1" cy="254.01" r="2" fill="#000" stroke="#000" stroke-width="0.6"/>
<circle cx="273.3" cy="285.08" r="2" fill="#000" stroke="#000" stroke-width="0.6"/>
<circle cx="212.2" cy="264.74" r="2" fill="#fff" stroke="#000" stroke-width="0.6"/>
<circle cx="232.9" cy="266.98" r="2" fill="#fff" stroke="#000" stroke-width="0.6"/>
<circle cx="253.1" cy="268.09" r="2" fill="#fff" stroke="#000" stroke-width="0.6"/>
<circle cx="273.3" cy="292.12" r="2" fill="#fff" stroke="#000" stroke-width="0.6"/>
<circle cx="212.2" cy="269.99" r="2" fill="#000" stroke="#000" stroke-width="0.6"/>
<circle cx="232.9" cy="271" r="2" fill="#000" stroke="#000" stroke-width="0.6"/>
<circle cx="253.1" cy="276.59" r="2" fill="#000" stroke="#000" stroke-width="0.6"/>
<circle cx="273.3" cy="285.08" r="2" fill="#000" stroke="#000" stroke-width="0.6"/>
<text transform="translate(8.5,284.6) rotate(-90)" font-size="7.7" text-anchor="middle">% <tspan font-size="4.6" dy="-2.4">51</tspan><tspan dy="2.4">Cr released</tspan></text>
<line x1="289.6" y1="205.4" x2="302.5" y2="205.4" stroke="#000" stroke-width="0.8"/>
<circle cx="296.2" cy="205.4" r="2.3" fill="#000" stroke="#000" stroke-width="0.6"/>
<text x="305.8" y="207.4" font-size="5.6" text-anchor="start" >MBL2 mTERT</text>
<line x1="289.6" y1="213.3" x2="302.5" y2="213.3" stroke="#000" stroke-width="0.8"/>
<circle cx="296.2" cy="213.3" r="2.3" fill="#fff" stroke="#000" stroke-width="0.6"/>
<text x="305.8" y="215.3" font-size="5.6" text-anchor="start" >MBL2 &#946;-gal</text>
<line x1="289.6" y1="221.2" x2="302.5" y2="221.2" stroke="#000" stroke-width="0.8"/>
<polygon points="296.2,223.85 298.84,219.22 293.56,219.22" fill="#000" stroke="#000" stroke-width="0.6"/>
<text x="305.8" y="223.2" font-size="5.6" text-anchor="start" >MBL2</text>
<line x1="289.6" y1="229.1" x2="302.5" y2="229.1" stroke="#000" stroke-width="0.8"/>
<polygon points="296.2,226.46 298.84,231.08 293.56,231.08" fill="#fff" stroke="#000" stroke-width="0.6"/>
<text x="305.8" y="231.1" font-size="5.6" text-anchor="start" >B16</text>
<line x1="289.6" y1="237" x2="302.5" y2="237" stroke="#000" stroke-width="0.8"/>
<rect x="294.13" y="234.93" width="4.14" height="4.14" fill="#000" stroke="#000" stroke-width="0.6"/>
<text x="305.8" y="239" font-size="5.6" text-anchor="start" >B16-B71</text>
<line x1="289.6" y1="244.9" x2="302.5" y2="244.9" stroke="#000" stroke-width="0.8"/>
<rect x="294.13" y="242.83" width="4.14" height="4.14" fill="#fff" stroke="#000" stroke-width="0.6"/>
<text x="305.8" y="246.9" font-size="5.6" text-anchor="start" >C1</text>
<line x1="289.6" y1="252.8" x2="302.5" y2="252.8" stroke="#000" stroke-width="0.8"/>
<polygon points="296.2,249.81 299.19,252.8 296.2,255.79 293.21,252.8" fill="#000" stroke="#000" stroke-width="0.6"/>
<text x="305.8" y="254.8" font-size="5.6" text-anchor="start" >C1-B71</text>
<line x1="289.6" y1="260.7" x2="302.5" y2="260.7" stroke="#000" stroke-width="0.8"/>
<polygon points="296.2,257.71 299.19,260.7 296.2,263.69 293.21,260.7" fill="#fff" stroke="#000" stroke-width="0.6"/>
<text x="305.8" y="262.7" font-size="5.6" text-anchor="start" >C2</text>
<line x1="289.6" y1="268.6" x2="302.5" y2="268.6" stroke="#000" stroke-width="0.8"/>
<polygon points="296.2,265.96 298.84,270.58 293.56,270.58" fill="#000" stroke="#000" stroke-width="0.6"/>
<text x="305.8" y="270.6" font-size="5.6" text-anchor="start" >C2-B71</text>
<line x1="289.6" y1="276.5" x2="302.5" y2="276.5" stroke="#000" stroke-width="0.8"/>
<polygon points="296.2,279.14 298.84,274.52 293.56,274.52" fill="#fff" stroke="#000" stroke-width="0.6"/>
<text x="305.8" y="278.5" font-size="5.6" text-anchor="start" >EL-4</text>
<line x1="289.6" y1="284.4" x2="302.5" y2="284.4" stroke="#000" stroke-width="0.8"/>
<circle cx="296.2" cy="284.4" r="2.3" fill="#000" stroke="#000" stroke-width="0.6"/>
<text x="305.8" y="286.4" font-size="5.6" text-anchor="start" >MCA203</text>
<line x1="289.6" y1="292.3" x2="302.5" y2="292.3" stroke="#000" stroke-width="0.8"/>
<circle cx="296.2" cy="292.3" r="2.3" fill="#fff" stroke="#000" stroke-width="0.6"/>
<text x="305.8" y="294.3" font-size="5.6" text-anchor="start" >MC38</text>
<line x1="289.6" y1="300.2" x2="302.5" y2="300.2" stroke="#000" stroke-width="0.8"/>
<circle cx="296.2" cy="300.2" r="2.3" fill="#000" stroke="#000" stroke-width="0.6"/>
<text x="305.8" y="302.2" font-size="5.6" text-anchor="start" >TC-1</text>
<text x="353.5" y="190.7" font-size="10.7" text-anchor="start" font-weight="bold" >D</text>
<line x1="407.89" y1="225" x2="409.5" y2="225" stroke="#000" stroke-width="0.8"/>
<line x1="409.5" y1="223.4" x2="409.5" y2="226.6" stroke="#000" stroke-width="0.8"/>
<rect x="405.1" y="218" width="2.79" height="14" fill="#000"/>
<line x1="466.23" y1="247.3" x2="471.49" y2="247.3" stroke="#000" stroke-width="0.8"/>
<line x1="471.49" y1="245.7" x2="471.49" y2="248.9" stroke="#000" stroke-width="0.8"/>
<rect x="405.1" y="240.3" width="61.13" height="14" fill="#000"/>
<line x1="438.78" y1="269.8" x2="442.64" y2="269.8" stroke="#000" stroke-width="0.8"/>
<line x1="442.64" y1="268.2" x2="442.64" y2="271.4" stroke="#000" stroke-width="0.8"/>
<rect x="405.1" y="262.8" width="33.68" height="14" fill="#000"/>
<line x1="491.54" y1="292.3" x2="495.3" y2="292.3" stroke="#000" stroke-width="0.8"/>
<line x1="495.3" y1="290.7" x2="495.3" y2="293.9" stroke="#000" stroke-width="0.8"/>
<rect x="405.1" y="285.3" width="86.44" height="14" fill="#000"/>
<rect x="405.1" y="307.8" width="1.07" height="14" fill="#000"/>
<rect x="405.1" y="202.6" width="107.8" height="134.7" fill="none" stroke="#000" stroke-width="0.9"/>
<line x1="405.1" y1="337.3" x2="405.1" y2="339.1" stroke="#000" stroke-width="0.8"/>
<text x="405.1" y="346.7" font-size="5.3" text-anchor="middle" >0</text>
<line x1="426.55" y1="337.3" x2="426.55" y2="339.1" stroke="#000" stroke-width="0.8"/>
<text x="426.55" y="346.7" font-size="5.3" text-anchor="middle" >20</text>
<line x1="448" y1="337.3" x2="448" y2="339.1" stroke="#000" stroke-width="0.8"/>
<text x="448" y="346.7" font-size="5.3" text-anchor="middle" >40</text>
<line x1="469.45" y1="337.3" x2="469.45" y2="339.1" stroke="#000" stroke-width="0.8"/>
<text x="469.45" y="346.7" font-size="5.3" text-anchor="middle" >60</text>
<line x1="490.9" y1="337.3" x2="490.9" y2="339.1" stroke="#000" stroke-width="0.8"/>
<text x="490.9" y="346.7" font-size="5.3" text-anchor="middle" >80</text>
<line x1="512.35" y1="337.3" x2="512.35" y2="339.1" stroke="#000" stroke-width="0.8"/>
<text x="512.35" y="346.7" font-size="5.3" text-anchor="middle" >100</text>
<text x="459.1" y="356.4" font-size="7.4" text-anchor="middle" >Percent reduction</text>
<text x="458.4" y="364.8" font-size="7.4" text-anchor="middle" >in pulmonary melanoma metastases</text>
<text x="402" y="226" font-size="5.6" text-anchor="end">&#946;-gal<tspan font-size="3.8" dy="1.2">96-103</tspan><tspan dy="-1.2"> CTLs</tspan></text>
<text x="402" y="246.4" font-size="5.6" text-anchor="end" >Polyclonal</text>
<text x="402" y="252.9" font-size="5.6" text-anchor="end">mTERT<tspan font-size="3.8" dy="1.2">198-205</tspan><tspan dy="-1.2"> CTLs</tspan></text>
<text x="402" y="268.9" font-size="5.6" text-anchor="end" >Low avidity</text>
<text x="402" y="275.4" font-size="5.6" text-anchor="end">mTERT<tspan font-size="3.8" dy="1.2">198-205</tspan><tspan dy="-1.2"> CTLs</tspan></text>
<text x="402" y="291.4" font-size="5.6" text-anchor="end" >High avidity</text>
<text x="402" y="297.9" font-size="5.6" text-anchor="end">mTERT<tspan font-size="3.8" dy="1.2">198-205</tspan><tspan dy="-1.2"> CTLs</tspan></text>
<text x="402" y="317.3" font-size="5.6" text-anchor="end" >No treatment</text>
<line x1="516.4" y1="206" x2="516.4" y2="337" stroke="#d8d8d8" stroke-width="0.6"/>
</svg></body></html>
